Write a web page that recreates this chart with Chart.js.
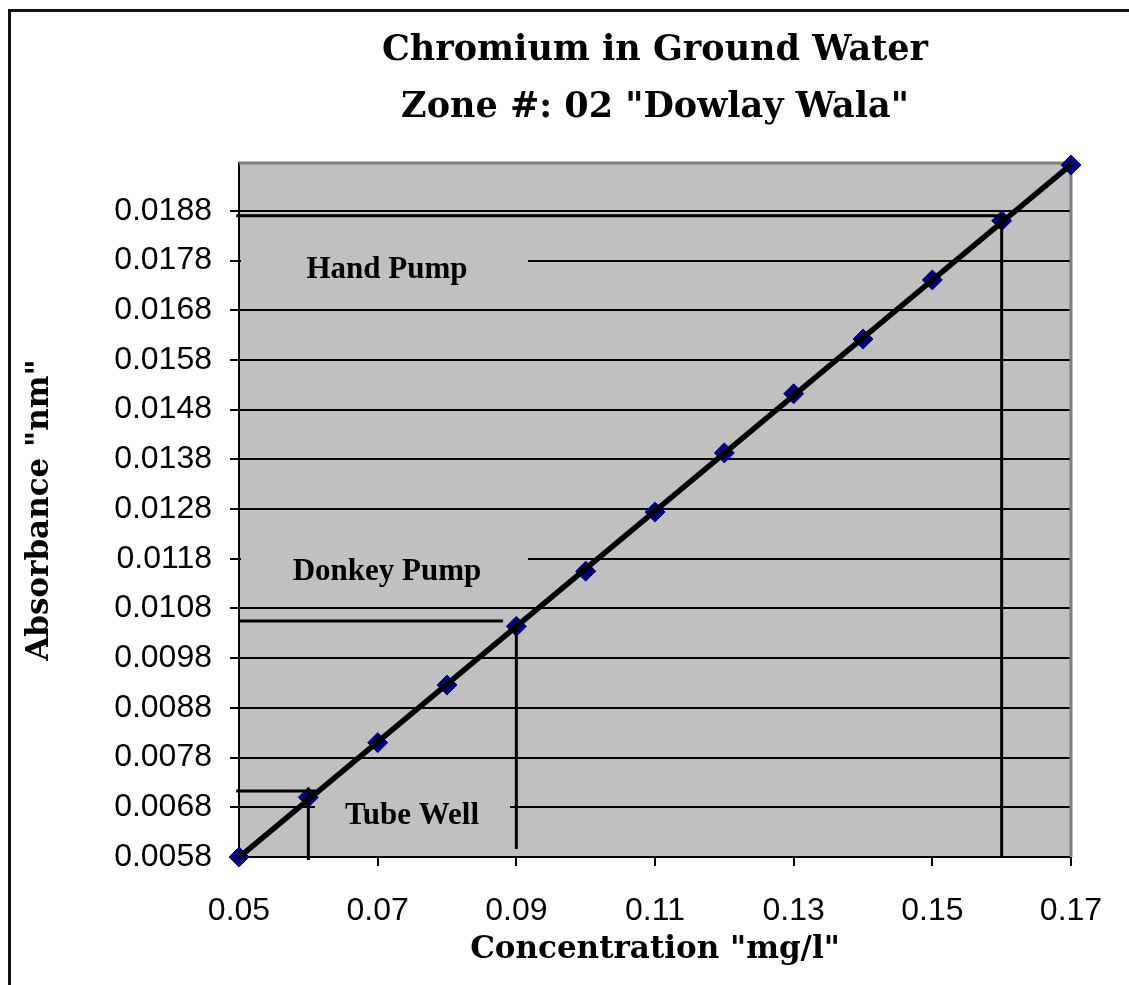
<!DOCTYPE html>
<html>
<head>
<meta charset="utf-8">
<script src="https://cdn.jsdelivr.net/npm/chart.js@4.4.1/dist/chart.umd.min.js"></script>
<style>
  body { margin: 0; background: #fff; }
  #frame { position: absolute; left: 8px; top: 9px; width: 1200px; height: 1000px;
           border-left: 3px solid #111; border-top: 3px solid #111; }
  #wrap { position: absolute; left: 0; top: 0; width: 1129px; height: 985px; }
</style>
</head>
<body>
<div id="frame"></div>
<div id="wrap"><canvas id="myChart"></canvas></div>
<script>
// measured points
var concentration = [0.05, 0.06, 0.07, 0.08, 0.09, 0.10, 0.11, 0.12, 0.13, 0.14, 0.15, 0.16, 0.17];
var absorbance = [0.0058, 0.0070, 0.0081, 0.00926, 0.01044, 0.01155, 0.01274, 0.01393, 0.01512, 0.01622, 0.01741, 0.0186, 0.01972];

var xTicks = [0.05, 0.07, 0.09, 0.11, 0.13, 0.15, 0.17];
var yTicks = [0.0058, 0.0068, 0.0078, 0.0088, 0.0098, 0.0108, 0.0118, 0.0128, 0.0138, 0.0148, 0.0158, 0.0168, 0.0178, 0.0188];

// read-off lines for the three sources
var handPumpX = [0.0496, 0.16, 0.16];
var handPumpY = [0.0187, 0.0187, 0.0058];
var donkeyPumpX = [0.05, 0.0881];
var donkeyPumpY = [0.01055, 0.01055];
var donkeyDropX = [0.09, 0.09];
var donkeyDropY = [0.0104, 0.00596];
var tubeWellX = [0.0496, 0.0611];
var tubeWellY = [0.00713, 0.00713];
var tubeDropX = [0.06, 0.06];
var tubeDropY = [0.0072, 0.00574];

var sourceLabels = ['Hand Pump', 'Donkey Pump', 'Tube Well'];

function toPoints(xs, ys) {
    return xs.map(function (x, i) { return { x: x, y: ys[i] }; });
}

// least squares trend line like the spreadsheet one
function trend() {
    var n = concentration.length, sx = 0, sy = 0, sxy = 0, sxx = 0;
    for (var i = 0; i < n; i++) {
        sx += concentration[i]; sy += absorbance[i];
        sxy += concentration[i] * absorbance[i]; sxx += concentration[i] * concentration[i];
    }
    var m = (n * sxy - sx * sy) / (n * sxx - sx * sx);
    var b = (sy - m * sx) / n;
    var x0 = concentration[0], x1 = concentration[n - 1];
    return [{ x: x0, y: m * x0 + b }, { x: x1, y: m * x1 + b }];
}

var refLine = { type: 'line', showLine: true, borderColor: '#000', borderWidth: 3,
    pointRadius: 0, fill: false, clip: false };

var labelBoxes = [
    { text: sourceLabels[0], cx: 387, cy: 270, x0: 239, x1: 528 },
    { text: sourceLabels[1], cx: 387, cy: 572, x0: 239, x1: 528 },
    { text: sourceLabels[2], cx: 412, cy: 816, x0: 313, x1: 510 }
];

var plotDecor = {
    id: 'plotDecor',
    beforeDraw: function (chart) {
        var a = chart.chartArea, ctx = chart.ctx;
        ctx.save();
        ctx.fillStyle = '#c0c0c0';
        ctx.fillRect(a.left, a.top, a.right - a.left, a.bottom - a.top);
        ctx.restore();
    },
    beforeDatasetsDraw: function (chart) {
        var a = chart.chartArea, ctx = chart.ctx;
        ctx.save();
        ctx.strokeStyle = '#808080';
        ctx.lineWidth = 3;
        ctx.beginPath();
        ctx.moveTo(a.left, a.top);
        ctx.lineTo(a.right, a.top);
        ctx.lineTo(a.right, a.bottom);
        ctx.stroke();
        ctx.font = 'bold 31px "Liberation Serif"';
        ctx.textAlign = 'center';
        ctx.textBaseline = 'middle';
        labelBoxes.forEach(function (l) {
            ctx.fillStyle = '#c0c0c0';
            ctx.fillRect(l.x0 + 2, l.cy - 22, l.x1 - l.x0 - 2, 44);
            ctx.fillStyle = '#000';
            ctx.fillText(l.text, l.cx, l.cy);
        });
        ctx.restore();
    }
};

var ctx = document.getElementById('myChart').getContext('2d');
var chart = new Chart(ctx, {
    type: 'scatter',
    data: {
        datasets: [
            { type: 'line', data: trend(), borderColor: '#000', borderWidth: 5.5,
              pointRadius: 0, fill: false, clip: false },
            Object.assign({ data: toPoints(handPumpX, handPumpY) }, refLine),
            Object.assign({ data: toPoints(donkeyPumpX, donkeyPumpY) }, refLine),
            Object.assign({ data: toPoints(donkeyDropX, donkeyDropY) }, refLine),
            Object.assign({ data: toPoints(tubeWellX, tubeWellY) }, refLine),
            Object.assign({ data: toPoints(tubeDropX, tubeDropY) }, refLine),
            { data: toPoints(concentration, absorbance), pointStyle: 'rectRot',
              pointRadius: 10, pointHoverRadius: 10, backgroundColor: '#000080',
              borderColor: '#000080', clip: false }
        ]
    },
    options: {
        responsive: true,
        maintainAspectRatio: false,
        animation: false,
        layout: { padding: { left: 0, right: 58, top: 0, bottom: 0 } },
        plugins: {
            legend: { display: false },
            tooltip: { enabled: false },
            title: {
                display: true,
                fullSize: false,
                text: ['Chromium in Ground Water', 'Zone #: 02 "Dowlay Wala"'],
                color: '#000',
                font: { family: '"DejaVu Serif"', weight: 'bold', size: 35, lineHeight: 1.63 },
                padding: { top: 22, bottom: 27 }
            }
        },
        scales: {
            x: {
                type: 'linear',
                min: 0.05,
                max: 0.17,
                afterBuildTicks: function (s) { s.ticks = xTicks.map(function (v) { return { value: v }; }); },
                afterFit: function (s) { s.height = 128; },
                grid: { drawOnChartArea: false, color: '#000', tickLength: 9, lineWidth: 2 },
                border: { color: '#000', width: 2 },
                ticks: {
                    color: '#000', padding: 26, maxRotation: 0,
                    font: { family: '"Liberation Sans"', size: 32 },
                    callback: function (v) { return v.toFixed(2); }
                },
                title: {
                    display: true, text: 'Concentration "mg/l"', color: '#000',
                    font: { family: '"DejaVu Serif"', weight: 'bold', size: 31 },
                    padding: { top: 0, bottom: 16 }
                }
            },
            y: {
                type: 'linear',
                min: 0.0058,
                max: 0.01976,
                afterBuildTicks: function (s) { s.ticks = yTicks.map(function (v) { return { value: v }; }); },
                afterFit: function (s) { s.width = 239; },
                grid: { color: '#000', tickLength: 9, lineWidth: 2 },
                border: { color: '#000', width: 2 },
                ticks: {
                    color: '#000', padding: 18,
                    font: { family: '"Liberation Sans"', size: 32 },
                    callback: function (v) { return v.toFixed(4); }
                },
                title: {
                    display: true, text: 'Absorbance "nm"', color: '#000',
                    font: { family: '"DejaVu Serif"', weight: 'bold', size: 31 },
                    padding: { top: 21, bottom: 0 }
                }
            }
        }
    },
    plugins: [plotDecor]
});
</script>
</body>
</html>
